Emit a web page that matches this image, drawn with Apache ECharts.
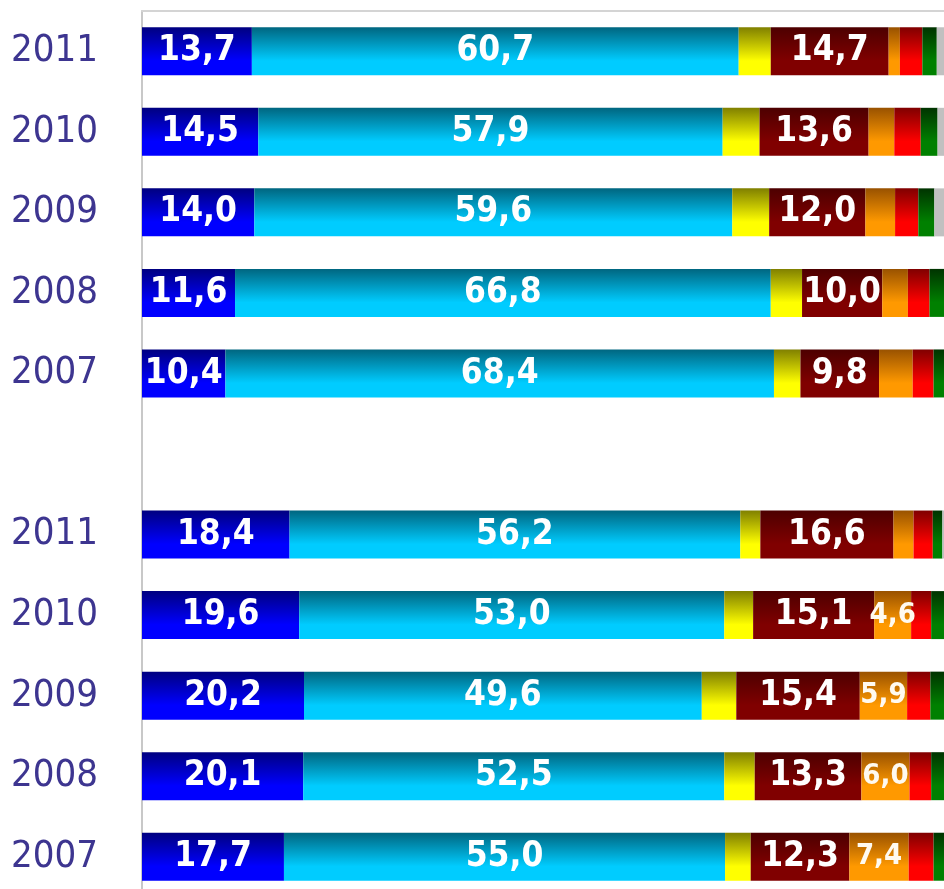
<!DOCTYPE html>
<html>
<head>
<meta charset="utf-8">
<script src="https://cdn.jsdelivr.net/npm/echarts@6/dist/echarts.min.js"></script>
<style>
  html, body { margin: 0; padding: 0; background: #fff; }
  #chart { width: 944px; height: 889px; }
</style>
</head>
<body>
<div id="chart"></div>
<script>
// rows top to bottom, '' is the empty gap between the two groups
const years = ['2011', '2010', '2009', '2008', '2007', '', '2011', '2010', '2009', '2008', '2007'];

const blueVals    = [13.7, 14.5, 14.0, 11.6, 10.4, null, 18.4, 19.6, 20.2, 20.1, 17.7];
const cyanVals    = [60.7, 57.9, 59.6, 66.8, 68.4, null, 56.2, 53.0, 49.6, 52.5, 55.0];
const yellowVals  = [4.0, 4.6, 4.6, 3.9, 3.3, null, 2.5, 3.6, 4.3, 3.8, 3.2];
const darkRedVals = [14.7, 13.6, 12.0, 10.0, 9.8, null, 16.6, 15.1, 15.4, 13.3, 12.3];
const orangeVals  = [1.4, 3.2, 3.7, 3.2, 4.2, null, 2.5, 4.6, 5.9, 6.0, 7.4];
const redVals     = [2.8, 3.3, 2.9, 2.7, 2.6, null, 2.4, 2.5, 2.9, 2.7, 3.1];
const greenVals   = [1.8, 2.1, 2.0, 1.8, 1.3, null, 1.2, 1.6, 1.7, 1.6, 1.3];
const greyVals    = [0.9, 0.8, 1.2, 0, 0, null, 0.2, 0, 0, 0, 0];

const FONT = "'DejaVu Sans Condensed', 'DejaVu Sans', sans-serif";

function grad(top, bottom) {
    return new echarts.graphic.LinearGradient(0, 0, 0, 1, [
        { offset: 0, color: top },
        { offset: 0.7, color: bottom },
        { offset: 1, color: bottom }
    ]);
}

function fmt(v) {
    return v.toFixed(1).replace('.', ',');
}

function makeSeries(name, data, color, label) {
    return {
        name: name,
        type: 'bar',
        stack: 'total',
        barWidth: 48,
        data: data,
        itemStyle: { color: color },
        label: label || { show: false },
        emphasis: { disabled: true }
    };
}

const bigLabel = {
    show: true,
    position: 'inside',
    color: '#ffffff',
    fontFamily: FONT,
    fontWeight: 'bold',
    fontSize: 35,
    formatter: p => fmt(p.value)
};

const smallLabel = {
    show: true,
    position: 'inside',
    color: '#fffaf0',
    fontFamily: FONT,
    fontWeight: 'bold',
    fontSize: 29,
    formatter: p => (p.value >= 4.5 ? fmt(p.value) : '')
};

const chart = echarts.init(document.getElementById('chart'));

chart.setOption({
    animation: false,
    backgroundColor: '#ffffff',
    grid: { left: 142, right: 0, top: 11, height: 886, outerBoundsMode: 'none' },
    xAxis: {
        type: 'value',
        position: 'top',
        min: 0,
        max: 100,
        axisLine: { show: true, lineStyle: { color: '#d4d4d4', width: 2 } },
        axisTick: { show: false },
        axisLabel: { show: false },
        splitLine: { show: false }
    },
    yAxis: {
        type: 'category',
        inverse: true,
        data: years,
        axisLine: { show: true, lineStyle: { color: '#c8c8c8', width: 2 } },
        axisTick: { show: false },
        axisLabel: {
            color: '#3d3590',
            fontFamily: FONT,
            fontSize: 38,
            margin: 44
        }
    },
    series: [
        makeSeries('blue', blueVals, grad('#000080', '#0000ff'), bigLabel),
        makeSeries('cyan', cyanVals, grad('#006680', '#00ccff'), bigLabel),
        makeSeries('yellow', yellowVals, grad('#808000', '#ffff00')),
        makeSeries('darkred', darkRedVals, grad('#4d0000', '#800000'), bigLabel),
        makeSeries('orange', orangeVals, grad('#995200', '#ff9900'), smallLabel),
        makeSeries('red', redVals, grad('#800000', '#ff0000')),
        makeSeries('green', greenVals, grad('#003300', '#008000')),
        makeSeries('grey', greyVals, '#c0c0c0')
    ]
});
</script>
</body>
</html>
